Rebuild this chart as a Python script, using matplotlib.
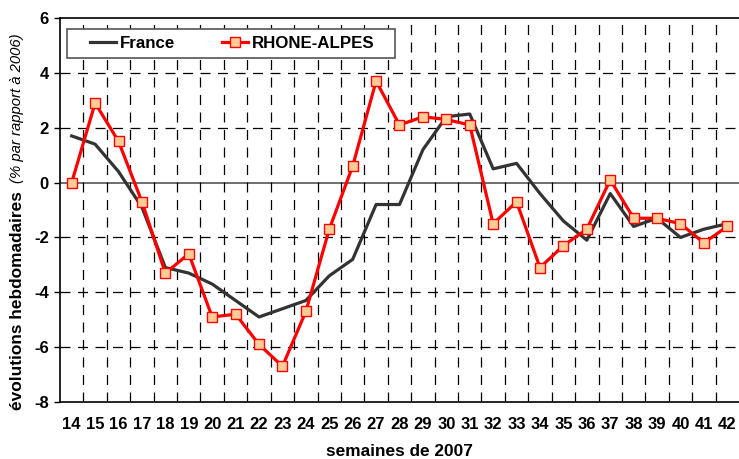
import matplotlib
matplotlib.use("Agg")
import matplotlib.pyplot as plt
from matplotlib.patches import Rectangle
import numpy as np

plt.rcParams['font.family'] = ['Liberation Sans', 'DejaVu Sans']

weeks = list(range(14, 43))
week_labels = [str(w) for w in weeks]
france = [1.7, 1.4, 0.4, -0.9, -3.1, -3.3, -3.7, -4.3, -4.9, -4.6, -4.3, -3.4, -2.8,
          -0.8, -0.8, 1.2, 2.4, 2.5, 0.5, 0.7, -0.4, -1.4, -2.1, -0.4, -1.6, -1.3,
          -2.0, -1.7, -1.5]
rhone_alpes = [0.0, 2.9, 1.5, -0.7, -3.3, -2.6, -4.9, -4.8, -5.9, -6.7, -4.7, -1.7, 0.6,
               3.7, 2.1, 2.4, 2.3, 2.1, -1.5, -0.7, -3.1, -2.3, -1.7, 0.1, -1.3, -1.3,
               -1.5, -2.2, -1.6]
yticks = [-8, -6, -4, -2, 0, 2, 4, 6]

W, H = 739, 459
fig = plt.figure(figsize=(W / 100, H / 100), dpi=100)
ax = fig.add_axes([60 / W, 1 - 402 / H, (W - 60) / W, (402 - 18) / H])

x = np.arange(len(weeks))
ax.set_xlim(-0.5, len(weeks) - 0.5)
ax.set_ylim(-8, 6)

# grid
for yv in yticks:
    if yv in (-8, 6):
        continue
    if yv == 0:
        ax.axhline(0, color='#555555', lw=1.2, zorder=1)
    else:
        ax.axhline(yv, color='black', lw=0.9, ls=(0, (8, 6)), zorder=1)
for xb in np.arange(0.5, len(weeks) - 0.5, 1):
    ax.axvline(xb, color='black', lw=0.9, ls=(0, (8, 6)), zorder=1)

ax.plot(x, france, color='#333333', lw=2.3, label='France', zorder=3)
ax.plot(x, rhone_alpes, color='#ff0000', lw=2.3, marker='s', markersize=6.5,
        markerfacecolor='#ffcc99', markeredgecolor='#ff0000', markeredgewidth=1.0,
        label='RHONE-ALPES', zorder=4)

ax.set_xticks(x)
ax.set_xticklabels(week_labels, fontsize=12, fontweight='bold')
ax.tick_params(axis='x', length=0, pad=11)
ax.set_yticks(yticks)
ax.set_yticklabels([str(v) for v in yticks], fontsize=12, fontweight='bold')
ax.tick_params(axis='y', length=4, width=1, direction='out', pad=4)

for s in ['left', 'bottom', 'top']:
    ax.spines[s].set_color('black')
    ax.spines[s].set_linewidth(1.2)
ax.spines['right'].set_visible(False)

fig.text((60 + (W - 60) / 2) / W, 1 - 451 / H, 'semaines de 2007', fontsize=12.4,
         fontweight='bold', ha='center', va='center')

fig.text(18 / W, 1 - 410 / H, 'évolutions hebdomadaires', rotation=90, fontsize=12.4,
         fontweight='bold', ha='center', va='bottom')
fig.text(17 / W, 1 - 183 / H, '(% par rapport à 2006)', rotation=90, fontsize=10.7,
         style='italic', ha='center', va='bottom')

# legend box (frame drawn separately to get the wide horizontal padding)
box = Rectangle((67 / W, 1 - 57.5 / H), (395 - 67) / W, (57.5 - 28.5) / H,
                transform=fig.transFigure, facecolor='white', edgecolor='#555555',
                linewidth=1.2, zorder=5)
fig.add_artist(box)
leg = fig.legend(*ax.get_legend_handles_labels(), loc='center left',
                 bbox_to_anchor=(90 / W, 1 - 43.3 / H), ncol=2,
                 prop={'weight': 'bold', 'size': 12.2}, frameon=False,
                 borderpad=0, handlelength=1.55, columnspacing=2.75,
                 handletextpad=0.22, borderaxespad=0)
leg.set_zorder(6)

fig.savefig('out.png', dpi=100)
